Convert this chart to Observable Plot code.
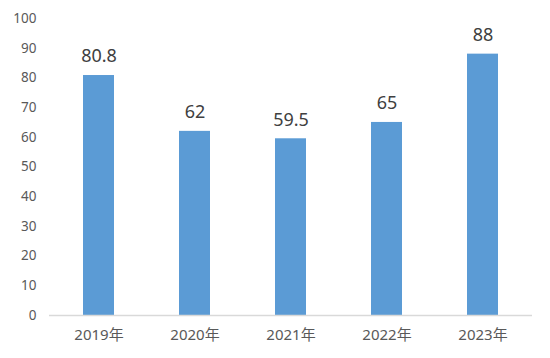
<!DOCTYPE html>
<html><head><meta charset="utf-8">
<script src="https://cdn.jsdelivr.net/npm/d3@7"></script>
<script src="https://cdn.jsdelivr.net/npm/@observablehq/plot@0.6"></script>
<style>body{margin:0;background:#fff;font-family:"Noto Sans","Noto Sans CJK SC",sans-serif;}</style>
</head><body><div id="chart"></div>
<script>
const years = ["2019年","2020年","2021年","2022年","2023年"];
const values = [80.8, 62, 59.5, 65, 88];
const yTicks = [0,10,20,30,40,50,60,70,80,90,100];
const data = years.map((y,i)=>({year:y, value:values[i]}));
const chart = Plot.plot({
  width:550, height:358,
  marginLeft:49, marginRight:18, marginTop:18, marginBottom:43,
  style:{fontFamily:'"Noto Sans","Noto Sans CJK SC",sans-serif', background:"#fff"},
  x:{domain:years, paddingInner:0.68, paddingOuter:0.34, label:null},
  y:{domain:[0,100], ticks:yTicks, label:null},
  marks:[
    Plot.axisY({ticks:yTicks, tickSize:0, tickPadding:13, label:null, fill:"#595959", fontSize:13.5}),
    Plot.axisX({tickSize:0, tickPadding:14, label:null, fill:"#595959", fontSize:15}),
    Plot.barY(data,{x:"year", y:"value", fill:"#5B9BD5"}),
    Plot.ruleY([0],{stroke:"#d9d9d9", strokeWidth:1.5}),
    Plot.text(data,{x:"year", y:"value", text:d=>String(d.value), dy:-19, fill:"#404040", fontSize:18})
  ]
});
document.getElementById("chart").appendChild(chart);
</script></body></html>
